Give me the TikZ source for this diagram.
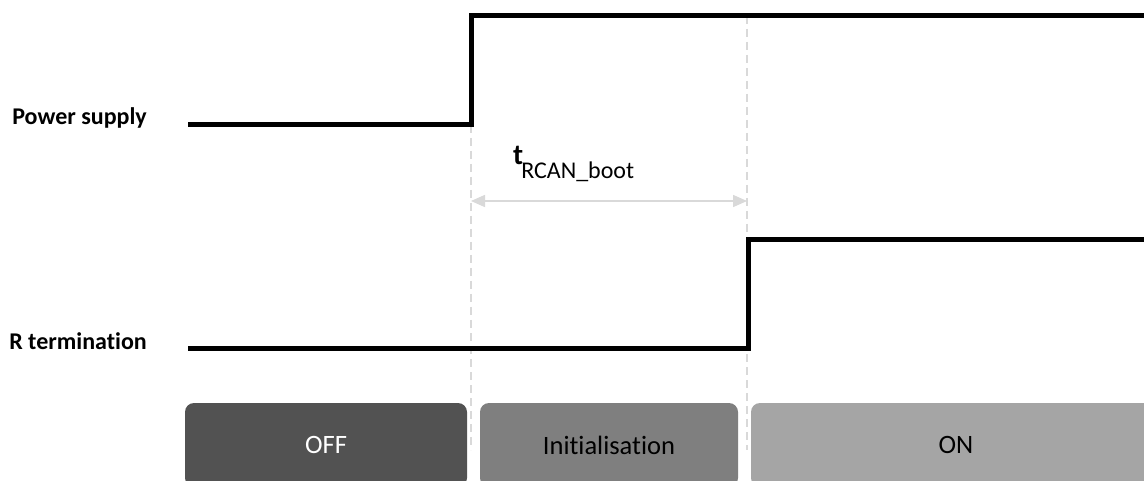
\documentclass[tikz,border=0pt]{standalone}
\usepackage{fontspec}
\setmainfont{Carlito}[Ligatures=NoCommon]
\usetikzlibrary{arrows.meta}
\definecolor{signalblack}{HTML}{000000}
\definecolor{guidegray}{HTML}{D9D9D9}
\definecolor{offgray}{HTML}{525252}
\definecolor{initgray}{HTML}{7F7F7F}
\definecolor{ongray}{HTML}{A5A5A5}

\begin{document}
\begin{tikzpicture}[
  x=1pt,y=1pt,line join=miter,
  signal/.style={signalblack,line width=5pt},
  guide/.style={guidegray,line width=1.5pt,dash pattern=on 8pt off 5pt},
  span/.style={guidegray,line width=1.5pt,{Triangle[length=14pt,width=12pt]}-{Triangle[length=14pt,width=12pt]}},
  siglabel/.style={anchor=base east,font=\bfseries\fontsize{24}{28}\selectfont,inner sep=0pt},
  phase/.style={rounded corners=9pt,minimum height=84pt,inner sep=0pt,font=\fontsize{26.5}{30}\selectfont}
]
  \useasboundingbox (0,0) rectangle (1144,480);
  \fill[white] (0,0) rectangle (1144,480);

  % Edge instants.
  \coordinate (rise) at (471,355);
  \coordinate (ready) at (747,464);

  % Guides down from both edges.
  \draw[guide] (rise) -- (471,30);
  \draw[guide] (ready) -- (747,30);

  % Boot time span.
  \coordinate (spanA) at (471,279);
  \coordinate (spanB) at (747,279);
  \draw[span] (spanA) -- (spanB);
  \node[anchor=base west,inner sep=0pt,font=\fontsize{24}{28}\selectfont] (tboot) at (513,315)
    {{\bfseries\fontsize{29}{32}\selectfont t}\kern-2pt\raisebox{-14pt}{RCAN\_boot}};

  % Signals.
  \node[siglabel] (psupply) at (147,355) {Power supply};
  \draw[signal] (188,355) -- (rise) -- (471,464) -- (1150,464);
  \node[siglabel] (rterm) at (147,131) {R termination};
  \draw[signal] (188,132) -- (748,132) -- (748,240) -- (1150,240);

  % Phases.
  \node[phase,fill=offgray,text=white,minimum width=282pt] (off) at (326,35) {OFF};
  \node[phase,fill=initgray,text=black,minimum width=258pt] (init) at (609,35) {Initialisation};
  \node[phase,fill=ongray,text=black,minimum width=410pt] (on) at (956,35) {ON};
\end{tikzpicture}
\end{document}
